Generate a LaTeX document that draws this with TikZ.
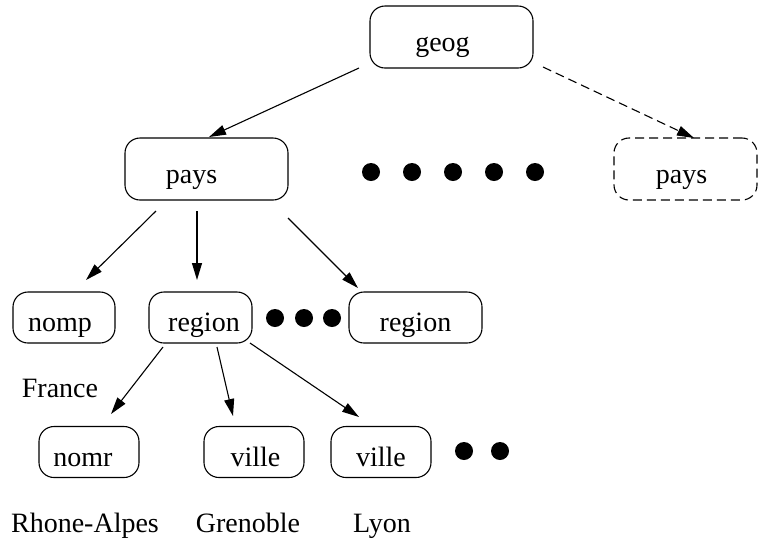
\documentclass[tikz,border=0pt]{standalone}
\usepackage{fontspec}
\setmainfont{Liberation Serif}
\usetikzlibrary{arrows.meta,calc}
% nudge a label sideways inside its box (half the kern)
\newcommand\nudge[2]{\kern#1pt#2}
\begin{document}
\begin{tikzpicture}[x=1pt,y=-1pt,
  font=\fontsize{28}{32}\selectfont,
  line width=1.1pt,
  box/.style={draw,rounded corners=15pt,inner sep=0pt,
    text height=34pt,text depth=6pt},
  bigbox/.style={box,minimum height=62pt},
  smallbox/.style={box,minimum height=51pt},
  ghost/.style={bigbox,dash pattern=on 9pt off 5pt},
  blob/.style={circle,fill,inner sep=0pt,minimum size=18pt},
  arr/.style={-{Triangle[length=17pt,width=10pt]}},
  dasharr/.style={arr,dash pattern=on 9pt off 5pt},
  word/.style={anchor=base,inner sep=0pt}]
\useasboundingbox (0,0) rectangle (770,539);

% boxes
\node[bigbox,minimum width=163pt] (geog)  at (451.5,37)  {\nudge{-18}{geog}};
\node[bigbox,minimum width=163pt] (pays)  at (206.5,169) {\nudge{-30}{pays}};
\node[ghost,minimum width=143pt]  (paysb) at (685.5,169) {\nudge{-8}{pays}};
\node[smallbox,minimum width=102pt] (nomp)  at (64,317.5)   {\nudge{-8}{nomp}};
\node[smallbox,minimum width=103pt] (reg)   at (200.5,317.5) {\nudge{7}{region}};
\node[smallbox,minimum width=133pt] (regb)  at (415.5,317.5) {region};
\node[smallbox,minimum width=100pt] (nomr)  at (89,452)  {\nudge{-12}{nomr}};
\node[smallbox,minimum width=100pt] (ville) at (254,452) {\nudge{3}{ville}};
\node[smallbox,minimum width=100pt] (villeb) at (381,452) {ville};

% ellipsis dots
\foreach \i/\x in {1/371,2/412,3/453,4/494,5/535}
  \node[blob] (top\i) at (\x,172) {};
\foreach \i/\x in {1/275,2/304,3/332}
  \node[blob] (mid\i) at (\x,318) {};
\foreach \i/\x in {1/464,2/500}
  \node[blob] (low\i) at (\x,451) {};

% values
\node[word] (france)   at (60,397)  {France};
\node[word] (rhone)    at (85,532)  {Rhone-Alpes};
\node[word] (grenoble) at (248,532) {Grenoble};
\node[word] (lyon)     at (382,532) {Lyon};

% edges
\draw[arr] ($(geog)+(-92.5,31)$) -- ($(pays)+(2.5,-32)$);
\draw[dasharr] ($(geog)+(91.5,30)$) -- ($(paysb)+(8.5,-31)$);
\draw[arr] ($(pays)+(-50.5,42)$) -- ($(nomp)+(22,-37.5)$);
\draw[arr] ($(pays)+(-9.5,42)$) -- ($(reg)+(-3.5,-37.5)$);
\draw[arr] ($(pays)+(81.5,49)$) -- ($(regb)+(-57.5,-29.5)$);
\draw[arr] ($(reg)+(-37.5,29.5)$) -- ($(nomr)+(22,-38)$);
\draw[arr] ($(reg)+(16.5,29.5)$) -- ($(ville)+(-21,-36)$);
\draw[arr] ($(reg)+(49.5,25.5)$) -- ($(villeb)+(-22,-35)$);
\end{tikzpicture}
\end{document}
